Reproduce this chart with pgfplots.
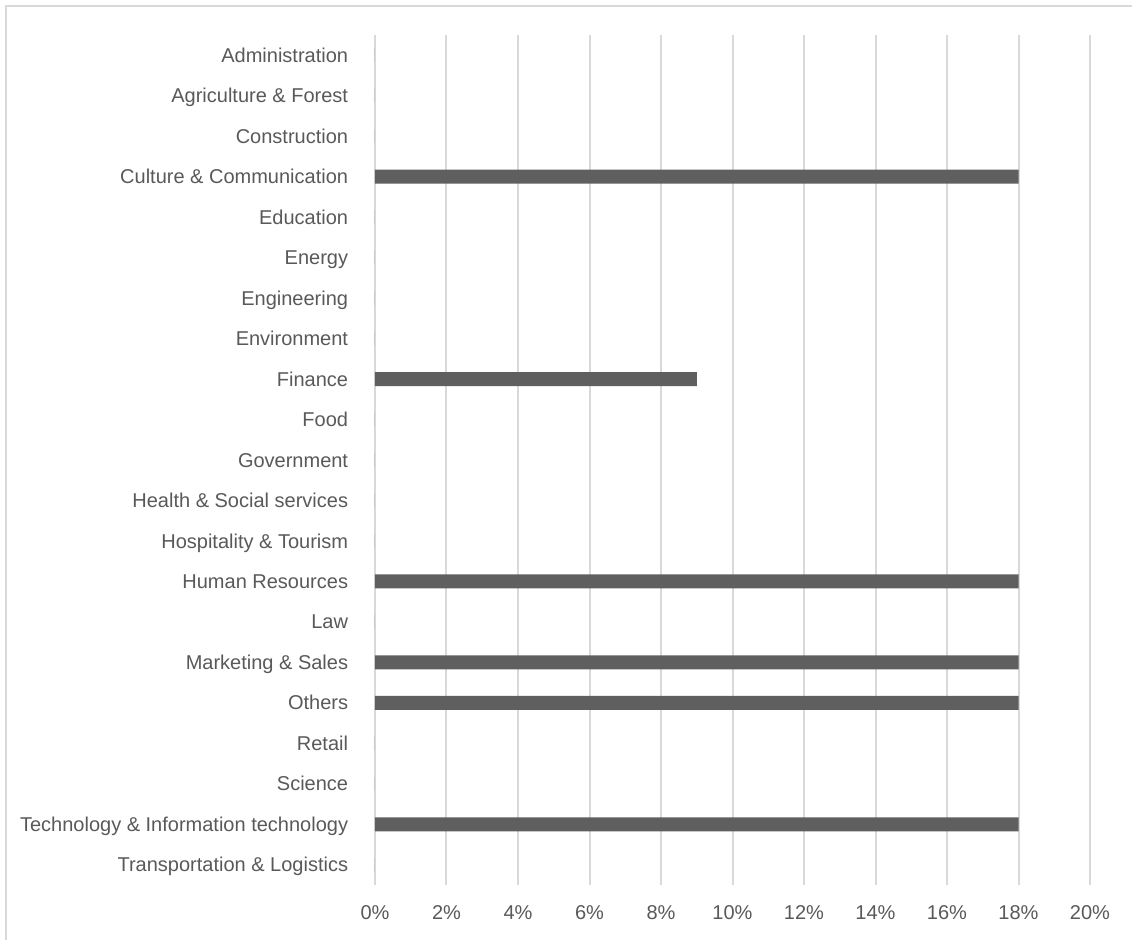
\documentclass[border=0pt]{standalone}
\usepackage{pgfplots}
\pgfplotsset{compat=1.18}
\usepackage{fontspec}
\setmainfont{Liberation Sans}
\definecolor{txt}{HTML}{595959}
\definecolor{gridc}{HTML}{D9D9D9}
\definecolor{barc}{HTML}{5F5F5F}
\begin{document}
\fontsize{15pt}{18pt}\selectfont
\begin{tikzpicture}
\path[use as bounding box] (0,0) rectangle (849pt,705pt);
% chart frame (left and top edges only are visible)
\draw[gridc, line width=1.4pt] (4.5pt,0) -- (4.5pt,700.5pt) -- (849pt,700.5pt);
\begin{axis}[
   at={(281.25pt,41.25pt)}, anchor=south west,
   scale only axis,
   width=536.25pt, height=637.5pt,
   xbar, bar width=10.5pt,
   xmin=0, xmax=20,
   ymin=-0.5, ymax=20.5,
   y dir=reverse,
   axis line style={draw=none},
   major tick length=0pt,
   xmajorgrids=true, ymajorgrids=false,
   grid style={gridc, line width=1.5pt},
   xtick={0,2,4,6,8,10,12,14,16,18,20},
   xticklabels={0\%,2\%,4\%,6\%,8\%,10\%,12\%,14\%,16\%,18\%,20\%},
   ytick={0,1,...,20},
   yticklabels={Administration,Agriculture \& Forest,Construction,Culture \& Communication,Education,Energy,Engineering,Environment,Finance,Food,Government,Health \& Social services,Hospitality \& Tourism,Human Resources,Law,Marketing \& Sales,Others,Retail,Science,Technology \& Information technology,Transportation \& Logistics},
   tick label style={txt, font=\fontsize{15pt}{18pt}\selectfont},
   xticklabel style={inner sep=0pt, anchor=base, yshift=-26pt},
   yticklabel style={inner sep=0pt, anchor=base east, xshift=-20pt, yshift=-5.3pt},
]
\addplot[fill=barc, draw=none] coordinates {
  (0,0) (0,1) (0,2) (18,3) (0,4) (0,5) (0,6) (0,7) (9,8) (0,9) (0,10)
  (0,11) (0,12) (18,13) (0,14) (18,15) (18,16) (0,17) (0,18) (18,19) (0,20)
};
\end{axis}
\end{tikzpicture}
\end{document}
